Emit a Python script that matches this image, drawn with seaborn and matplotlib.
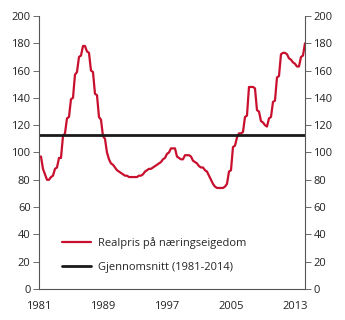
"""
plot.py
Realpris på næringseigedom mot gjennomsnitt (1981-2014).
Outputs: out.png
"""

import matplotlib.pyplot as plt
import numpy as np
import pandas as pd
import seaborn as sns

# Quarterly index values, 1981 Q1 - 2014 Q2
REALPRIS = [
    97, 97, 88, 84, 80, 80, 82, 83, 88, 89, 96, 96,
    112, 114, 125, 126, 139, 140, 157, 159, 170, 171, 178, 178,
    174, 173, 160, 159, 143, 142, 126, 124, 112, 110, 100, 95,
    92, 91, 89, 87, 86, 85, 84, 83, 83, 82, 82, 82,
    82, 82, 83, 83, 84, 86, 87, 88, 88, 89, 90, 91,
    92, 93, 95, 96, 99, 100, 103, 103, 103, 97, 96, 95,
    95, 98, 98, 98, 97, 94, 93, 92, 90, 89, 89, 87,
    86, 83, 80, 77, 75, 74, 74, 74, 74, 75, 77, 86,
    87, 104, 105, 111, 114, 114, 115, 126, 127, 148, 148, 148,
    147, 131, 130, 123, 122, 120, 119, 125, 126, 137, 138, 155,
    156, 172, 173, 173, 172, 169, 168, 166, 165, 163, 163, 170,
    171, 180,
]
START_YEAR = 1981
MEAN_VALUE = 113
X_TICKS = [1981, 1989, 1997, 2005, 2013]
Y_TICKS = [0, 20, 40, 60, 80, 100, 120, 140, 160, 180, 200]
LABELS = ["Realpris på næringseigedom", "Gjennomsnitt (1981-2014)"]

RED = "#C8102E"
BLACK = "#1a1a1a"
SPINE = "#555555"


def main():
    sns.set_theme(style="white")
    plt.rcParams["font.family"] = ["Open Sans", "DejaVu Sans"]

    years = START_YEAR + np.arange(len(REALPRIS)) / 4
    df = pd.DataFrame({"year": years, "value": REALPRIS})

    fig = plt.figure(figsize=(3.45, 3.2), dpi=100)
    ax = fig.add_axes([0.113, 0.097, 0.771, 0.853])

    sns.lineplot(data=df, x="year", y="value", ax=ax, color=RED, linewidth=1.6,
                 label=LABELS[0])
    ax.plot([years[0], years[-1]], [MEAN_VALUE, MEAN_VALUE], color=BLACK,
            linewidth=2.0, label=LABELS[1])

    ax.set_xlim(years[0], years[-1])
    ax.set_ylim(0, 200)
    ax.set_xticks(X_TICKS)
    ax.set_yticks(Y_TICKS)
    ax.set_xlabel("")
    ax.set_ylabel("")

    for side in ["left", "right", "bottom"]:
        ax.spines[side].set_visible(True)
        ax.spines[side].set_color(SPINE)
        ax.spines[side].set_linewidth(0.8)
    ax.spines["top"].set_visible(False)

    ax.tick_params(axis="y", which="both", left=True, right=True, labelleft=True,
                   labelright=True, length=4, width=0.6, color=SPINE,
                   labelsize=8, labelcolor="#222222", pad=2)
    ax.tick_params(axis="x", bottom=False, labelsize=8, labelcolor="#222222", pad=3)

    ax.legend(loc="lower left", bbox_to_anchor=(0.05, 0.023), frameon=False,
              fontsize=8, handlelength=2.6, labelspacing=1.17, handletextpad=0.6)

    fig.savefig("out.png", dpi=100)
    plt.close(fig)


if __name__ == "__main__":
    main()
